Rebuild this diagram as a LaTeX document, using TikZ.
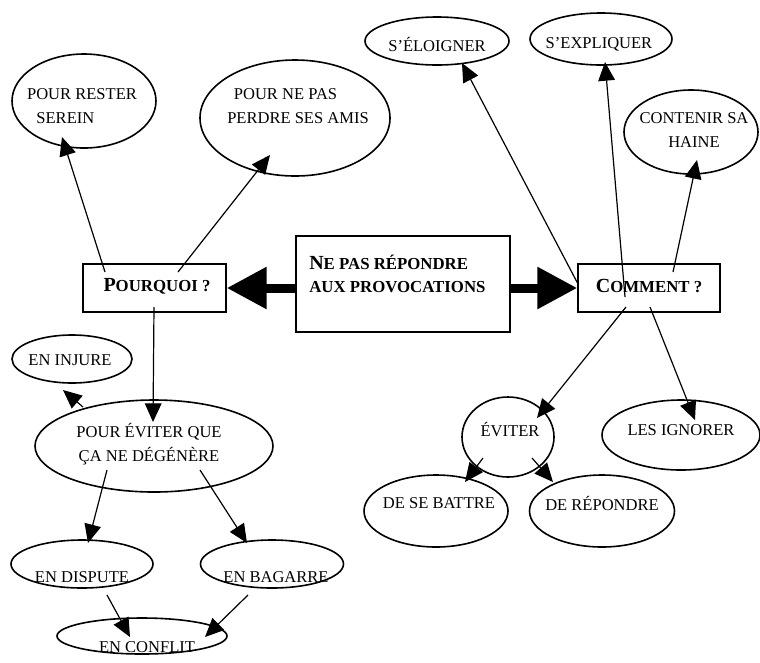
\documentclass[tikz,border=0pt]{standalone}
\usepackage{fontspec}
\setmainfont{Liberation Serif}
\usetikzlibrary{arrows.meta,shapes.geometric,calc}
\newcommand{\BI}[1]{{\fontsize{15}{18}\selectfont #1}}
\newcommand{\BS}[1]{{\fontsize{12.6}{17}\selectfont #1}}
\begin{document}
\begin{tikzpicture}[x=0.75pt,y=-0.75pt,
  esz/.style 2 args={minimum width={#1*0.75pt},minimum height={#2*0.75pt}},
  ell/.style={draw,ellipse,line width=1.2pt,inner sep=0pt},
  box/.style={draw,rectangle,line width=1.1pt,inner sep=0pt},
  txt/.style={font=\fontsize{12.4}{18}\selectfont,inner sep=0pt,align=center},
  btxt/.style={font=\bfseries\fontsize{12.6}{17}\selectfont,inner sep=0pt,align=center},
  conn/.style={line width=0.9pt,-{Triangle[length=14pt,width=12.5pt]}},
  big/.style={line width=6.75pt,-{Triangle[length=30pt,width=30pt]}}]
\useasboundingbox (0,0) rectangle (760,662);
% nodes
\node[ell,esz={144}{94}] (serein) at (84,101) {};
\node[txt,align=left] (sereinT) at (82,106) {POUR RESTER\\\hspace*{7pt}SEREIN};
\node[ell,esz={190}{116}] (amis) at (295,118) {};
\node[txt,align=left] (amisT) at (298,106) {\hspace*{5pt}POUR NE PAS\\PERDRE SES AMIS};
\node[ell,esz={144}{48}] (eloigner) at (437,41) {};
\node[txt] (eloignerT) at (437,44) {S’ÉLOIGNER};
\node[ell,esz={142}{52}] (expliquer) at (601,39) {};
\node[txt] (expliquerT) at (599,44) {S’EXPLIQUER};
\node[ell,esz={134}{84}] (haine) at (691,132) {};
\node[txt] (haineT) at (694,130) {CONTENIR SA\\HAINE};
\node[box,esz={143}{48}] (pourquoi) at (154.5,288) {};
\node[btxt] (pourquoiT) at (157,286) {\BI{P}\BS{OURQUOI ?}};
\node[box,esz={214}{96}] (main) at (403,284) {};
\node[btxt,anchor=west,align=left] (mainT) at (309,274) {\BI{N}\BS{E PAS RÉPONDRE}\\\BS{AUX PROVOCATIONS}};
\node[box,esz={142}{48}] (comment) at (649,288) {};
\node[btxt] (commentT) at (649,286) {\BI{C}\BS{OMMENT ?}};
\node[ell,esz={120}{48}] (injure) at (72,359) {};
\node[txt] (injureT) at (70,360) {EN INJURE};
\node[ell,esz={238}{92}] (degenere) at (154,446) {};
\node[txt] (degenereT) at (149,444) {POUR ÉVITER QUE\\ÇA NE DÉGÉNÈRE};
\node[ell,esz={92}{80}] (eviter) at (508,437) {};
\node[txt] (eviterT) at (510,430) {ÉVITER};
\node[ell,esz={158}{70}] (ignorer) at (681,435) {};
\node[txt] (ignorerT) at (681,430) {LES IGNORER};
\node[ell,esz={144}{72}] (battre) at (436,511) {};
\node[txt] (battreT) at (439,503) {DE SE BATTRE};
\node[ell,esz={145}{72}] (repondre) at (602,511) {};
\node[txt] (repondreT) at (602,503) {DE RÉPONDRE};
\node[ell,esz={142}{48}] (dispute) at (82,564) {};
\node[txt] (disputeT) at (82,577) {EN DISPUTE};
\node[ell,esz={143}{48}] (bagarre) at (272,564) {};
\node[txt] (bagarreT) at (276,577) {EN BAGARRE};
\node[ell,esz={170}{36}] (conflit) at (142,636) {};
\node[txt] (conflitT) at (147,647) {EN CONFLIT};
% big arrows
\draw[big] (main.west |- pourquoi.east) -- (pourquoi.east);
\draw[big] (main.east |- comment.west) -- (comment.west);
% connectors
\draw[conn] ($(pourquoi.center)+(-49.5,-16)$) -- ($(serein.center)+(-22,36)$);
\draw[conn] ($(pourquoi.center)+(23.5,-16)$) -- ($(amis.center)+(-25,37)$);
\draw[conn] ($(comment.center)+(-71,-4)$) -- ($(eloigner.center)+(25,22)$);
\draw[conn] ($(comment.center)+(-24,9)$) -- ($(expliquer.center)+(4,23)$);
\draw[conn] ($(comment.center)+(24,-16)$) -- ($(haine.center)+(6,28)$);
\draw[conn] ($(comment.center)+(-23,19)$) -- ($(eviter.center)+(29,-19)$);
\draw[conn] ($(comment.center)+(1,19)$) -- ($(ignorer.center)+(14,-15)$);
\draw[conn] ($(eviter.center)+(-25,21)$) -- ($(battre.center)+(29,-29)$);
\draw[conn] ($(eviter.center)+(24,21)$) -- ($(repondre.center)+(-49,-29)$);
\draw[conn] ($(pourquoi.center)+(-0.5,19)$) -- ($(degenere.center)+(-1,-24)$);
\draw[conn] ($(degenere.center)+(-71,-39)$) -- ($(injure.center)+(-9,31)$);
\draw[conn] ($(degenere.center)+(-47,24)$) -- ($(dispute.center)+(6,-21)$);
\draw[conn] ($(degenere.center)+(46,24)$) -- ($(bagarre.center)+(-25,-21)$);
\draw[conn] ($(dispute.center)+(25,31)$) -- ($(conflit.center)+(-12,1)$);
\draw[conn] ($(bagarre.center)+(-24,31)$) -- ($(conflit.center)+(63,1)$);
\end{tikzpicture}
\end{document}
